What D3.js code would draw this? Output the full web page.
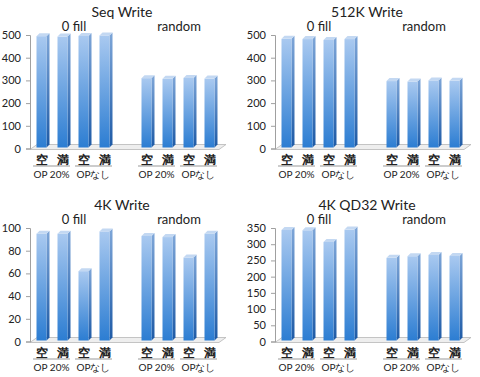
<!DOCTYPE html>
<html><head><meta charset="utf-8">
<script src="https://cdn.jsdelivr.net/npm/d3@7"></script>
<style>body{margin:0;background:#fff}svg{display:block}text{font-family:Lato,"Open Sans",sans-serif;fill:#222}</style>
</head><body>
<script>
const titles = ["Seq Write", "512K Write", "4K Write", "4K QD32 Write"];
const groups = ["0 fill", "random"];
const subGroups = ["OP 20%", "OPなし"];
const states = ["空", "満"];
const seqWrite = [495, 493, 496, 498, 310, 307, 311, 308];
const k512Write = [483, 482, 478, 482, 297, 295, 300, 298];
const k4Write = [95, 95, 62, 97, 93, 92, 74, 95];
const k4qd32Write = [344, 343, 307, 345, 258, 263, 267, 264];
const yMax = [500, 500, 100, 350];
const yTicks = [[0,100,200,300,400,500],[0,100,200,300,400,500],[0,20,40,60,80,100],[0,50,100,150,200,250,300,350]];
const seriesList = [seqWrite, k512Write, k4Write, k4qd32Write];

const svg = d3.select("body").append("svg").attr("width",480).attr("height",377);
const defs = svg.append("defs");
const gf = defs.append("linearGradient").attr("id","gFront").attr("x1",0).attr("y1",0).attr("x2",0).attr("y2",1);
gf.append("stop").attr("offset","0%").attr("stop-color","#a9c9f0");
gf.append("stop").attr("offset","100%").attr("stop-color","#2c7dd2");
const gs = defs.append("linearGradient").attr("id","gSide").attr("x1",0).attr("y1",0).attr("x2",0).attr("y2",1);
gs.append("stop").attr("offset","0%").attr("stop-color","#7ea6d8");
gs.append("stop").attr("offset","100%").attr("stop-color","#1d5aa6");

const panels = [
  {px:0, py:0, xo:32},
  {px:240, py:0, xo:37},
  {px:0, py:193, xo:32},
  {px:240, py:193, xo:37}
];
const slot = 21;
const slotIdx = [0,1,2,3,5,6,7,8];

panels.forEach((p, i) => {
  const g = svg.append("g").attr("transform", `translate(${p.px},${p.py})`);
  const x0 = p.xo;
  const y = d3.scaleLinear().domain([0, yMax[i]]).range([148.5, 35]);
  const x = d3.scaleBand().domain(d3.range(9)).range([x0, x0 + 9*slot]);
  g.append("text").attr("x", x0 + 90).attr("y", 17).attr("text-anchor","middle").attr("font-size", 14).text(titles[i]);
  g.append("text").attr("x", x(0) + 2*slot).attr("y", 31).attr("text-anchor","middle").attr("font-size", 13).text(groups[0]);
  g.append("text").attr("x", x(5) + 2*slot).attr("y", 31).attr("text-anchor","middle").attr("font-size", 13).text(groups[1]);
  const y0 = y(0);
  g.append("path")
    .attr("d", `M${x0-2},${y0+1} L${x0+9*slot-2},${y0+1} L${x0+9*slot+5},${y0-4} L${x0+5},${y0-4} Z`)
    .attr("fill","#eeeeee").attr("stroke","#b8b8b8").attr("stroke-width",0.8);
  const axis = d3.axisLeft(y).tickValues(yTicks[i]).tickSize(4).tickPadding(5).tickFormat(d3.format("d"));
  const ag = g.append("g").attr("transform", `translate(${x0-2},0)`).call(axis);
  ag.selectAll("path,line").attr("stroke","#a0a0a0");
  ag.selectAll("text").attr("font-size", 11).attr("font-family","Lato,'Open Sans',sans-serif").attr("fill","#222");
  const vals = seriesList[i];
  const w = 10, d = 3;
  const bars = g.selectAll("g.bar").data(vals).join("g").attr("class","bar");
  bars.each(function(v, j) {
    const bx = x(slotIdx[j]) + (slot - w)/2 - 1;
    const top = y(v), bot = y0 - 1;
    const bg = d3.select(this);
    bg.append("path").attr("d", `M${bx+w},${top} L${bx+w+d},${top-d} L${bx+w+d},${bot-d} L${bx+w},${bot} Z`).attr("fill","url(#gSide)");
    bg.append("rect").attr("x", bx).attr("y", top).attr("width", w).attr("height", bot - top).attr("fill","url(#gFront)");
    bg.append("path").attr("d", `M${bx},${top} L${bx+d},${top-d} L${bx+w+d},${top-d} L${bx+w},${top} Z`).attr("fill","#c3d8f2");
  });
  slotIdx.forEach((s, j) => {
    g.append("text").attr("x", x(s) + slot/2 - 0.5).attr("y", 164).attr("text-anchor","middle")
      .attr("font-size", 11.5).attr("font-weight", 700).attr("font-family","'Noto Sans CJK JP',sans-serif").text(states[j % 2]);
  });
  [0,2,5,7].forEach((s, k) => {
    const xa = x(s) + 1, xb = x(s) + 2*slot - 4;
    g.append("line").attr("x1", xa).attr("x2", xb).attr("y1", 166).attr("y2", 166).attr("stroke","#999").attr("stroke-width",1);
    g.append("text").attr("x", (xa+xb)/2).attr("y", 178).attr("text-anchor","middle")
      .attr("font-size", 10).text(subGroups[k % 2]);
  });
});
</script>
</body></html>
